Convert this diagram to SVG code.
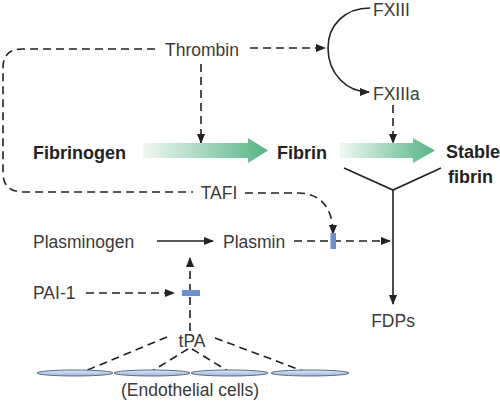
<svg xmlns="http://www.w3.org/2000/svg" width="500" height="404" viewBox="0 0 500 404">
<style>
.t{font-family:"Liberation Sans",Arial,sans-serif;font-size:17.5px;fill:#3a3a3a}
.b{font-family:"Liberation Sans",Arial,sans-serif;font-size:18px;font-weight:bold;fill:#222}
.d{fill:none;stroke:#222;stroke-width:1.6;stroke-dasharray:8 5}
.s{fill:none;stroke:#222;stroke-width:1.6}
.bar{fill:#6b8fd0}
.cell{fill:url(#cg);stroke:#5a6a8a;stroke-width:1}
</style>
<defs>
<marker id="ah" markerUnits="userSpaceOnUse" markerWidth="10" markerHeight="8" refX="9" refY="4" orient="auto">
<path d="M0,0 L10,4 L0,8 Z" fill="#222"/>
</marker>
<linearGradient id="gg" x1="0" y1="0" x2="1" y2="0">
<stop offset="0" stop-color="#f1f8f3"/>
<stop offset="1" stop-color="#55b483"/>
</linearGradient>
<linearGradient id="cg" x1="0" y1="0" x2="0" y2="1">
<stop offset="0" stop-color="#dfe8f7"/>
<stop offset="1" stop-color="#9fb4dc"/>
</linearGradient>
</defs>

<g id="connectors">
<path class="d" d="M155 49 H22 Q3 49 3 68 V173 Q3 192 24 192 H193"/>
<path class="d" d="M250 48 H325" marker-end="url(#ah)"/>
<path class="d" d="M201 64 V143" marker-end="url(#ah)"/>
<path class="s" d="M370 8 C345 8 328 25 328 48 C328 74 347 92 369 92" marker-end="url(#ah)"/>
<path class="d" d="M393 105 V143" marker-end="url(#ah)"/>
<path class="s" d="M344 168 L393 190 L441 168 M393 190 V304" marker-end="url(#ah)"/>
<path class="d" d="M245 193 H298 C318 193 333 205 333 234" marker-end="url(#ah)"/>
<path class="d" d="M294 241 H390" marker-end="url(#ah)"/>
<path class="s" d="M157 241 H213" marker-end="url(#ah)"/>
<path class="d" d="M86 293 H174" marker-end="url(#ah)"/>
<path class="d" d="M190 331 V258" marker-end="url(#ah)"/>
<path class="d" d="M167 337 L85 371 M188 349 L152 371 M192 349 L228 371 M215 338 L303 371"/>
</g>

<g id="arrow-fibrinogen-fibrin">
<path d="M143 143 H248 V138 L268 150.5 L248 163 V158 H143 Z" fill="url(#gg)"/>
</g>
<g id="arrow-fibrin-stable">
<path d="M340 143 H413 V138 L435 150.5 L413 163 V158 H340 Z" fill="url(#gg)"/>
</g>

<g id="bar-tafi"><rect class="bar" x="330.5" y="233" width="5.5" height="16"/></g>
<g id="bar-pai"><rect class="bar" x="182" y="290" width="18" height="6"/></g>

<g id="thrombin"><text class="t" x="202" y="55.5" text-anchor="middle">Thrombin</text></g>
<g id="fxiii"><text class="t" x="373" y="16">FXIII</text></g>
<g id="fxiiia"><text class="t" x="373" y="100">FXIIIa</text></g>
<g id="fibrinogen"><text class="b" x="33" y="159">Fibrinogen</text></g>
<g id="fibrin"><text class="b" x="277" y="159">Fibrin</text></g>
<g id="stable-fibrin"><text class="b" x="446" y="158">Stable</text><text class="b" x="448" y="183">fibrin</text></g>
<g id="tafi"><text class="t" x="219" y="199" text-anchor="middle">TAFI</text></g>
<g id="plasminogen"><text class="t" x="33" y="248">Plasminogen</text></g>
<g id="plasmin"><text class="t" x="223" y="248">Plasmin</text></g>
<g id="pai1"><text class="t" x="33" y="299">PAI-1</text></g>
<g id="tpa"><text class="t" x="192" y="347" text-anchor="middle">tPA</text></g>
<g id="fdps"><text class="t" x="393" y="327" text-anchor="middle">FDPs</text></g>
<g id="endothelial">
<ellipse class="cell" cx="75" cy="373" rx="38" ry="3"/>
<ellipse class="cell" cx="152" cy="373" rx="38" ry="3"/>
<ellipse class="cell" cx="229.5" cy="373" rx="38.5" ry="3"/>
<ellipse class="cell" cx="310" cy="373" rx="39" ry="3"/>
<text class="t" x="190" y="396" text-anchor="middle">(Endothelial cells)</text>
</g>
</svg>
